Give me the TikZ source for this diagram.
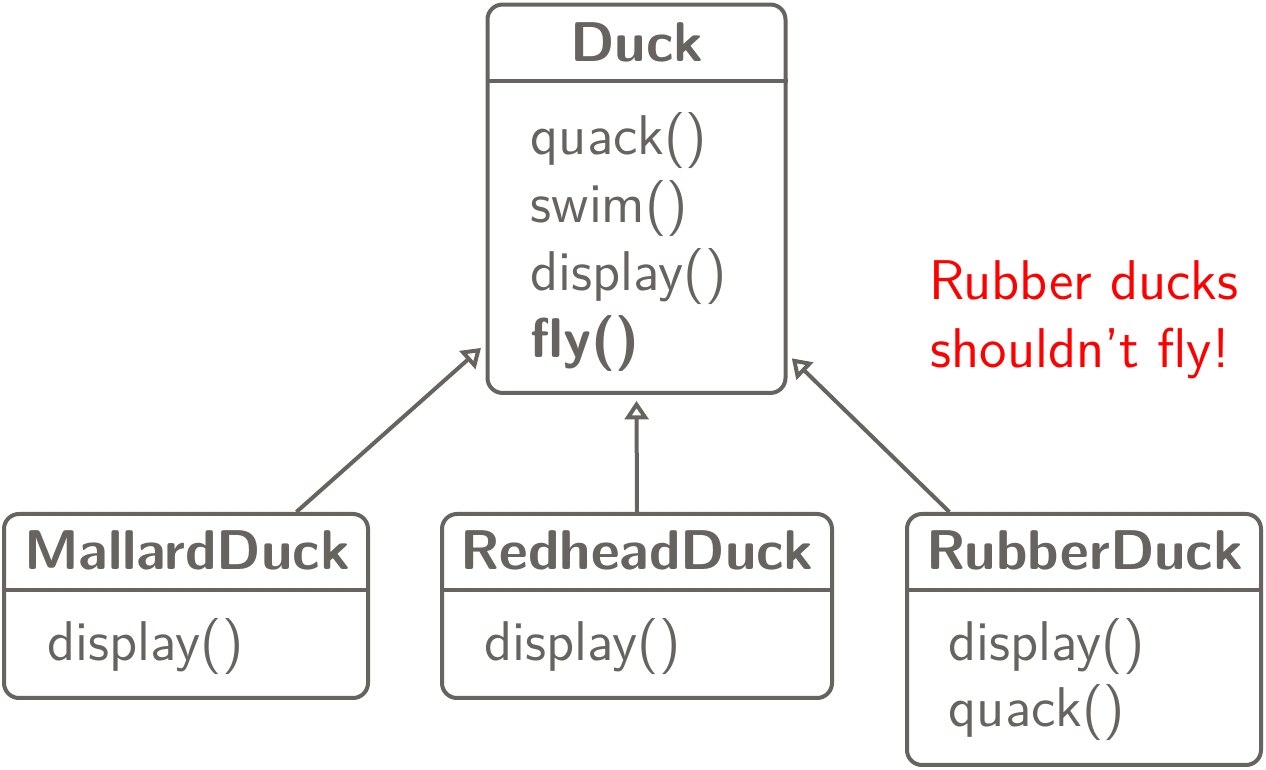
\documentclass[tikz,border=0pt]{standalone}
\usepackage{xcolor}
\usepackage{tikz}
\usetikzlibrary{arrows.meta, positioning, calc}
\definecolor{umlgray}{HTML}{67635E}
\definecolor{warnred}{HTML}{FF0000}

\begin{document}
\begin{tikzpicture}[x=0.25pt, y=-0.25pt,
  classbox/.style={draw=umlgray, line width=1pt, rounded corners=3.75pt, inner sep=0pt},
  classname/.style={text=umlgray, font=\fontsize{14}{17}\selectfont\sffamily\bfseries, inner sep=0pt, anchor=base},
  method/.style={text=umlgray, font=\fontsize{14}{17}\selectfont\sffamily, inner sep=0pt, anchor=base west},
  divider/.style={draw=umlgray, line width=1pt},
  inherit/.style={draw=umlgray, line width=1pt, shorten >=1.5pt, -{Triangle[open, length=4.6pt, width=5.9pt]}},
  note/.style={text=warnred, font=\fontsize{14}{17}\selectfont\sffamily, inner sep=0pt, anchor=base}
]
\useasboundingbox (0,0) rectangle (1266,770);

% superclass
\node[classbox, minimum width=74.5pt, minimum height=97.1pt] (duck) at (636.5,198.75) {};
\draw[divider] ($(duck.north west)+(0,78)$) -- ($(duck.north east)+(0,78)$);
\node[classname] (duckname) at (637,62) {Duck};
\foreach \m [count=\i] in {quack(), swim(), display()}
  \node[method] (duckm\i) at (530,{155+67.7*(\i-1)}) {\m};
\node[method, font=\fontsize{14}{17}\selectfont\sffamily\bfseries] (duckfly) at (530,358) {fly()};

% subclasses
\node[classbox, minimum width=91pt, minimum height=46pt] (mallard) at (186,606) {};
\node[classbox, minimum width=97.5pt, minimum height=46pt] (redhead) at (637,606) {};
\node[classbox, minimum width=88.5pt, minimum height=62.75pt] (rubber) at (1084,639.5) {};
\foreach \c in {mallard, redhead, rubber}
  \draw[divider] ($(\c.north west)+(0,78)$) -- ($(\c.north east)+(0,78)$);

\node[classname] (mallardname) at (187,570) {MallardDuck};
\node[classname] (redheadname) at (637,570) {RedheadDuck};
\node[classname] (rubbername) at (1085,570) {RubberDuck};
\node[method] (mallardm1) at (47,660) {display()};
\node[method] (redheadm1) at (484,660) {display()};
\node[method] (rubberm1) at (948,660) {display()};
\node[method] (rubberm2) at (948,727) {quack()};

% note
\node[note] (note1) at (1084,300) {Rubber ducks};
\node[note] (note2) at (1080,368) {shouldn’t fly!};

% inheritance
\draw[inherit] ($(mallard.north west)!0.8!(mallard.north east)$) -- ($(duck.north west)!0.87!(duck.south west)$);
\draw[inherit] (redhead.north) -- (duck.south);
\draw[inherit] ($(rubber.north west)!0.124!(rubber.north east)$) -- ($(duck.north east)!0.896!(duck.south east)$);
\end{tikzpicture}
\end{document}
